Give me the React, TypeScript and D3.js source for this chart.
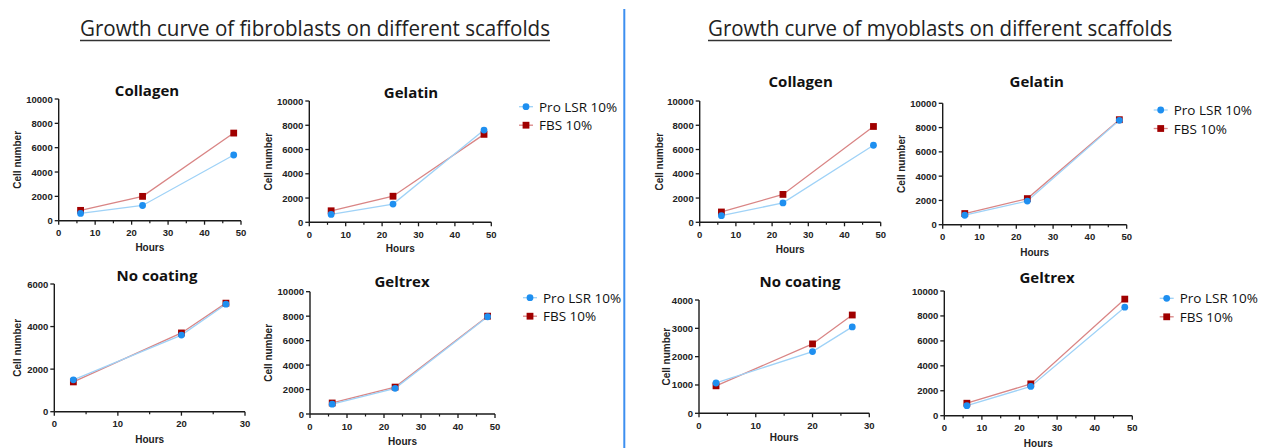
import React from "react";
import * as d3 from "d3";

// ---------- DATA ----------
const seriesNames = ["Pro LSR 10%", "FBS 10%"];
const pageTitles = [
  "Growth curve of fibroblasts on different scaffolds",
  "Growth curve of myoblasts on different scaffolds",
];
const panelTitles = ["Collagen", "Gelatin", "No coating", "Geltrex", "Collagen", "Gelatin", "No coating", "Geltrex"];

const hours48 = [6, 23, 48];
const hours27 = [3, 20, 27];

const fibroCollagenPro = [600, 1250, 5400];
const fibroCollagenFbs = [850, 2000, 7200];
const fibroGelatinPro = [650, 1500, 7600];
const fibroGelatinFbs = [950, 2150, 7250];
const fibroNoCoatPro = [1500, 3600, 5050];
const fibroNoCoatFbs = [1400, 3700, 5100];
const fibroGeltrexPro = [800, 2100, 7950];
const fibroGeltrexFbs = [900, 2200, 8000];

const myoCollagenPro = [550, 1600, 6350];
const myoCollagenFbs = [850, 2300, 7900];
const myoGelatinPro = [780, 1950, 8600];
const myoGelatinFbs = [920, 2150, 8650];
const myoNoCoatPro = [1070, 2180, 3050];
const myoNoCoatFbs = [970, 2450, 3470];
const myoGeltrexPro = [800, 2350, 8700];
const myoGeltrexFbs = [1000, 2550, 9350];

const yTicks10k = [0, 2000, 4000, 6000, 8000, 10000];
const yTicks6k = [0, 2000, 4000, 6000];
const yTicks4k = [0, 1000, 2000, 3000, 4000];
const xTicks50 = [0, 10, 20, 30, 40, 50];
const xTicks30 = [0, 10, 20, 30];

// ---------- LAYOUT ----------
type Panel = {
  title: string;
  hours: number[];
  pro: number[];
  fbs: number[];
  yTicks: number[];
  xTicks: number[];
  x0: number; x1: number; yTop: number; yBot: number;
  tx: number; ty: number; hy: number; cx: number | null;
  legend: [number, number] | null;
};

const panels: Panel[] = [
  { title: panelTitles[0], hours: hours48, pro: fibroCollagenPro, fbs: fibroCollagenFbs, yTicks: yTicks10k, xTicks: xTicks50,
    x0: 58.7, x1: 241, yTop: 99, yBot: 220.7, tx: 147, ty: 90, hy: 247, cx: 17, legend: null },
  { title: panelTitles[1], hours: hours48, pro: fibroGelatinPro, fbs: fibroGelatinFbs, yTicks: yTicks10k, xTicks: xTicks50,
    x0: 309.3, x1: 491.3, yTop: 101, yBot: 222.3, tx: 411, ty: 92, hy: 248, cx: 268, legend: [526, 106.7] },
  { title: panelTitles[2], hours: hours27, pro: fibroNoCoatPro, fbs: fibroNoCoatFbs, yTicks: yTicks6k, xTicks: xTicks30,
    x0: 54.3, x1: 245, yTop: 284, yBot: 411.7, tx: 157, ty: 275, hy: 439, cx: 17, legend: null },
  { title: panelTitles[3], hours: hours48, pro: fibroGeltrexPro, fbs: fibroGeltrexFbs, yTicks: yTicks10k, xTicks: xTicks50,
    x0: 310, x1: 495, yTop: 291.7, yBot: 414, tx: 402, ty: 280.7, hy: 441.7, cx: 268.3, legend: [530, 297.7] },
  { title: panelTitles[4], hours: hours48, pro: myoCollagenPro, fbs: myoCollagenFbs, yTicks: yTicks10k, xTicks: xTicks50,
    x0: 699.7, x1: 880.7, yTop: 101, yBot: 222.3, tx: 800.7, ty: 80.7, hy: 249, cx: 659, legend: null },
  { title: panelTitles[5], hours: hours48, pro: myoGelatinPro, fbs: myoGelatinFbs, yTicks: yTicks10k, xTicks: xTicks50,
    x0: 942.7, x1: 1126.7, yTop: 103.3, yBot: 224.7, tx: 1036.7, ty: 80.7, hy: 252, cx: 901.7, legend: [1160.7, 110] },
  { title: panelTitles[6], hours: hours27, pro: myoNoCoatPro, fbs: myoNoCoatFbs, yTicks: yTicks4k, xTicks: xTicks30,
    x0: 699, x1: 869.3, yTop: 300, yBot: 413.3, tx: 800, ty: 280.7, hy: 437.3, cx: 666, legend: null },
  { title: panelTitles[7], hours: hours48, pro: myoGeltrexPro, fbs: myoGeltrexFbs, yTicks: yTicks10k, xTicks: xTicks50,
    x0: 944.3, x1: 1132.3, yTop: 291, yBot: 415.7, tx: 1047, ty: 277.3, hy: 443.3, cx: null, legend: [1166.7, 298.3] },
];

const BLUE = "#1e8ff0";
const BLUE_LINE = "#9fd2f7";
const RED = "#a00000";
const RED_LINE = "#d98585";
const AX = "#1a1a1a";
const TICKFONT = "'Liberation Sans', Arial, sans-serif";
const TITLEFONT = "'Open Sans', 'Noto Sans', sans-serif";

function Marker({ kind, x, y }: { kind: "c" | "s"; x: number; y: number }) {
  return kind === "c" ? (
    <circle cx={x} cy={y} r={3.4} fill={BLUE} />
  ) : (
    <rect x={x - 3.4} y={y - 3.4} width={6.8} height={6.8} fill={RED} />
  );
}

function PanelChart({ p }: { p: Panel }) {
  const xMax = p.xTicks[p.xTicks.length - 1];
  const yMax = p.yTicks[p.yTicks.length - 1];
  const x = d3.scaleLinear().domain([0, xMax]).range([p.x0, p.x1]);
  const y = d3.scaleLinear().domain([0, yMax]).range([p.yBot, p.yTop]);
  const line = d3.line<[number, number]>().x((d) => x(d[0])).y((d) => y(d[1]));
  const proPts = p.hours.map((h, i) => [h, p.pro[i]] as [number, number]);
  const fbsPts = p.hours.map((h, i) => [h, p.fbs[i]] as [number, number]);
  const minor = d3.range(0, p.xTicks.length - 1).map((i) => (p.xTicks[i] + p.xTicks[i + 1]) / 2);
  return (
    <g>
      <text x={p.tx} y={p.ty} textAnchor="middle" dominantBaseline="central" fontFamily={TITLEFONT} fontWeight={700} fontSize={15} fill="#111">
        {p.title}
      </text>
      {/* axes */}
      <line x1={p.x0} x2={p.x0} y1={p.yTop} y2={p.yBot} stroke={AX} strokeWidth={1.4} />
      <line x1={p.x0} x2={p.x1} y1={p.yBot} y2={p.yBot} stroke={AX} strokeWidth={1.4} />
      {p.yTicks.map((t) => (
        <g key={"y" + t}>
          <line x1={p.x0 - 4} x2={p.x0} y1={y(t)} y2={y(t)} stroke={AX} strokeWidth={1.3} />
          <text x={p.x0 - 6} y={y(t)} textAnchor="end" dominantBaseline="central" fontFamily={TICKFONT} fontWeight={700} fontSize={9.5} fill="#222">
            {t}
          </text>
        </g>
      ))}
      {p.xTicks.map((t) => (
        <g key={"x" + t}>
          <line x1={x(t)} x2={x(t)} y1={p.yBot} y2={p.yBot + 4} stroke={AX} strokeWidth={1.3} />
          <text x={x(t)} y={p.yBot + 12} textAnchor="middle" dominantBaseline="central" fontFamily={TICKFONT} fontWeight={700} fontSize={9.5} fill="#222">
            {t}
          </text>
        </g>
      ))}
      {minor.map((t) => (
        <line key={"m" + t} x1={x(t)} x2={x(t)} y1={p.yBot} y2={p.yBot + 2.5} stroke={AX} strokeWidth={1.2} />
      ))}
      <text x={(p.x0 + p.x1) / 2} y={p.hy} textAnchor="middle" dominantBaseline="central" fontFamily={TICKFONT} fontWeight={700} fontSize={10} fill="#222">
        Hours
      </text>
      {p.cx !== null && (
        <text
          transform={`translate(${p.cx},${(p.yTop + p.yBot) / 2}) rotate(-90)`}
          textAnchor="middle"
          dominantBaseline="central"
          fontFamily={TICKFONT}
          fontWeight={700}
          fontSize={10}
          fill="#222"
        >
          Cell number
        </text>
      )}
      {/* series */}
      <path d={line(fbsPts) || ""} fill="none" stroke={RED_LINE} strokeWidth={1.3} />
      <path d={line(proPts) || ""} fill="none" stroke={BLUE_LINE} strokeWidth={1.3} />
      {fbsPts.map((d, i) => (
        <Marker key={"f" + i} kind="s" x={x(d[0])} y={y(d[1])} />
      ))}
      {proPts.map((d, i) => (
        <Marker key={"p" + i} kind="c" x={x(d[0])} y={y(d[1])} />
      ))}
      {p.legend && (
        <g>
          {seriesNames.map((name, i) => {
            const lx = p.legend![0];
            const ly = p.legend![1] + i * 18.5;
            return (
              <g key={name}>
                <line x1={lx - 7} x2={lx + 7} y1={ly} y2={ly} stroke={i === 0 ? BLUE_LINE : RED_LINE} strokeWidth={1.3} />
                <Marker kind={i === 0 ? "c" : "s"} x={lx} y={ly} />
                <text x={lx + 13} y={ly} dominantBaseline="central" fontFamily={TITLEFONT} fontSize={13.5} fill="#111">
                  {name}
                </text>
              </g>
            );
          })}
        </g>
      )}
    </g>
  );
}

export default function App() {
  return (
    <svg width={1263} height={448} style={{ position: "absolute", left: 0, top: 0, background: "#fff" }}>
      <rect x={0} y={0} width={1263} height={448} fill="#fff" />
      {pageTitles.map((t, i) => {
        const cxs = [315, 940];
        const w = [470, 464];
        return (
          <g key={t}>
            <text
              x={cxs[i]}
              y={36}
              textAnchor="middle"
              fontFamily={TITLEFONT}
              fontSize={21}
              textLength={w[i]}
              lengthAdjust="spacingAndGlyphs"
              fill="#222"
            >
              {t}
            </text>
            <line x1={cxs[i] - w[i] / 2} x2={cxs[i] + w[i] / 2} y1={40.5} y2={40.5} stroke="#333" strokeWidth={1.3} />
          </g>
        );
      })}
      <line x1={624.3} x2={624.3} y1={9} y2={448} stroke="#3d8ff0" strokeWidth={2} />
      {panels.map((p, i) => (
        <PanelChart key={i} p={p} />
      ))}
    </svg>
  );
}
